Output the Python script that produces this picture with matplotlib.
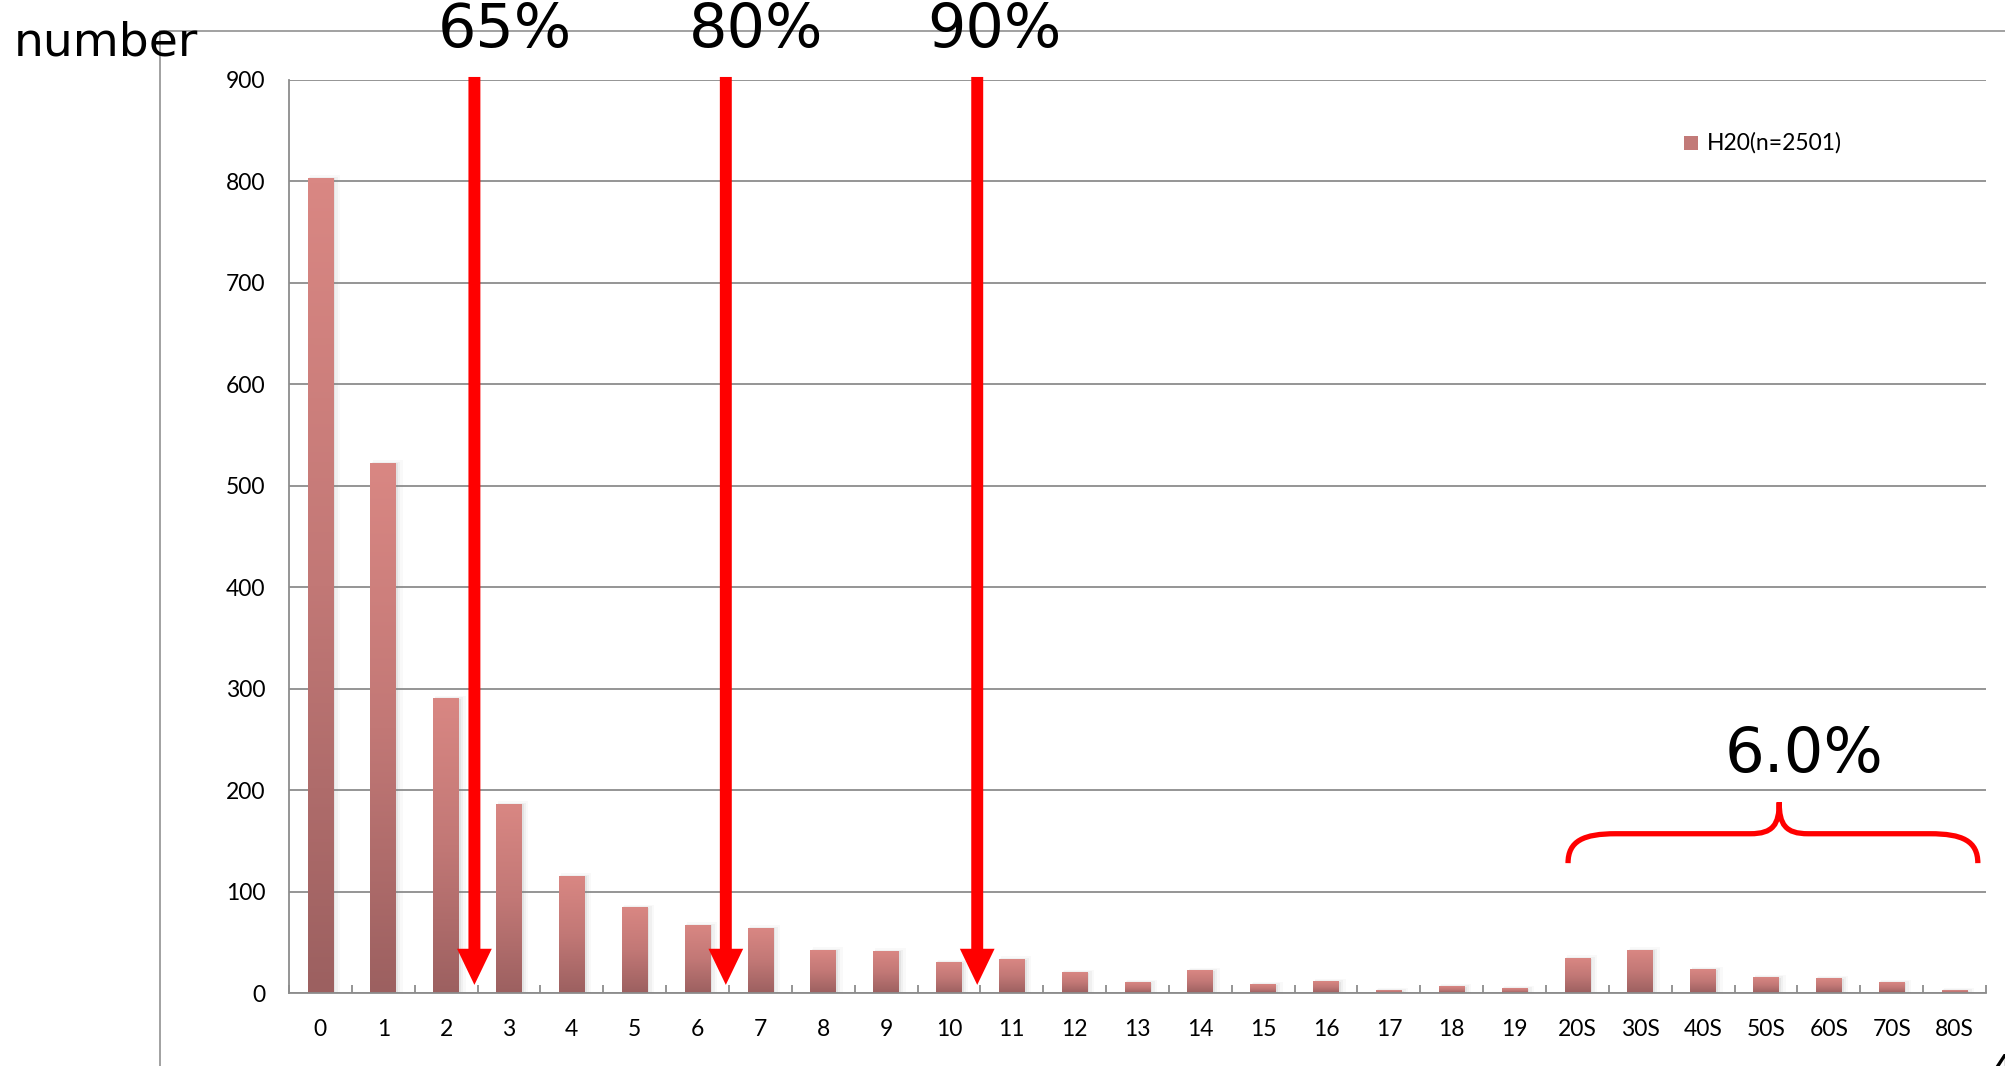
import numpy as np
import matplotlib
matplotlib.use("Agg")
import matplotlib.pyplot as plt
from matplotlib.path import Path
from matplotlib.patches import PathPatch, Rectangle
from matplotlib.lines import Line2D
from matplotlib.colors import LinearSegmentedColormap

# Number of cases per count bucket
categories = [str(i) for i in range(20)] + ["20S", "30S", "40S", "50S", "60S", "70S", "80S"]
counts = [803, 522, 290, 186, 115, 84, 67, 64, 42, 41, 30, 33, 20, 10, 22, 8, 11, 2, 6, 4,
          34, 42, 23, 15, 14, 10, 2]
series_label = "H20(n=2501)"

y_ticks = [0, 100, 200, 300, 400, 500, 600, 700, 800, 900]

# Cumulative-share markers (between buckets) and their labels
marker_pos = [2.45, 6.45, 10.45]
marker_labels = ["65%", "80%", "90%"]
marker_label_x = [2.94, 6.93, 10.72]
tail_label = "6.0%"

W, H = 2005, 1066
fig = plt.figure(figsize=(W / 100, H / 100), dpi=100)
fig.patch.set_facecolor("white")

def fx(px):
    return px / W

def fy(py):
    return 1 - py / H

ax = fig.add_axes([fx(289), fy(993), fx(1986) - fx(289), fy(80) - fy(993)])
ax.set_facecolor("white")

tick_font = "Lato"
grid_col = "#8c8c8c"

x = np.arange(len(categories))
bar_w = 0.41

# vertical gradient: light at the top, darker at the base
grad_cmap = LinearSegmentedColormap.from_list("bar", ["#9c6060", "#c27876", "#d98783"])
grad = np.linspace(0, 1, 256).reshape(-1, 1)

for xi, v in zip(x, counts):
    # soft shadow
    for k, a in enumerate([0.10, 0.07, 0.04]):
        off = 0.02 + 0.025 * k
        ax.add_patch(Rectangle((xi - bar_w / 2 + off * 0.5, 0), bar_w + off, v + 1.5 * k,
                               facecolor="#7f7f7f", edgecolor="none", alpha=a, zorder=1.5))
    ax.imshow(grad, extent=(xi - bar_w / 2, xi + bar_w / 2, 0, v), origin="lower",
              cmap=grad_cmap, aspect="auto", interpolation="bilinear", zorder=2)

ax.set_xlim(-0.5, len(categories) - 0.5)
ax.set_ylim(0, 900)

ax.set_yticks(y_ticks)
ax.set_yticklabels([str(t) for t in y_ticks], fontname=tick_font, fontsize=16.5)
ax.tick_params(axis="y", length=0, pad=17)
ax.grid(axis="y", color=grid_col, linewidth=1.3, zorder=1)
ax.set_axisbelow(True)

ax.set_xticks(x)
ax.set_xticklabels(categories, fontname=tick_font, fontsize=16.5)
ax.tick_params(axis="x", length=0, pad=19)
ax.set_xticks(np.arange(-0.5, len(categories)), minor=True)
ax.tick_params(axis="x", which="minor", direction="in", length=6, width=1.3, color=grid_col)

for side in ["top", "right"]:
    ax.spines[side].set_visible(False)
for side in ["left", "bottom"]:
    ax.spines[side].set_color(grid_col)
    ax.spines[side].set_linewidth(1.3)
    ax.spines[side].set_zorder(3)

# red arrows marking cumulative shares
cat_px = 1697 / len(categories)
for mx, lab, lx in zip(marker_pos, marker_labels, marker_label_x):
    ax.annotate("", xy=(mx, 8), xytext=(mx, 903), xycoords="data", textcoords="data",
                arrowprops=dict(arrowstyle="simple,head_length=26,head_width=25,tail_width=8.6",
                                mutation_scale=1, color="#ff0000", shrinkA=0, shrinkB=0,
                                linewidth=0),
                annotation_clip=False, zorder=5)
    fig.text(fx(289 + (lx + 0.5) * cat_px), fy(47), lab,
             ha="center", va="baseline", fontsize=43.5, family="DejaVu Sans", color="black")

# curly brace over the grouped buckets
L, R, M = 19.85, 26.37, 23.21
yb, yh, yt = 128, 157, 188
verts = [
    (L, yb), (L, 150), (L + 0.25, yh), (L + 0.76, yh),
    (M - 0.46, yh),
    (M - 0.1, yh), (M, 166), (M, yt),
    (M, 166), (M + 0.1, yh), (M + 0.46, yh),
    (R - 0.76, yh),
    (R - 0.25, yh), (R, 150), (R, yb),
]
codes = [Path.MOVETO, Path.CURVE4, Path.CURVE4, Path.CURVE4,
         Path.LINETO,
         Path.CURVE4, Path.CURVE4, Path.CURVE4,
         Path.CURVE4, Path.CURVE4, Path.CURVE4,
         Path.LINETO,
         Path.CURVE4, Path.CURVE4, Path.CURVE4]
ax.add_patch(PathPatch(Path(verts, codes), facecolor="none", edgecolor="#ff0000",
                       linewidth=3.8, capstyle="butt", zorder=5, clip_on=False))
ax.text(23.6, 218, tail_label, ha="center", va="baseline", fontsize=45,
        family="DejaVu Sans", color="black", zorder=6)

# legend entry
sq = Rectangle((fx(1684), fy(150)), fx(14), 14 / H, transform=fig.transFigure,
               facecolor="#c27a78", edgecolor="none")
fig.patches.append(sq)
fig.text(fx(1707), fy(143), series_label, ha="left", va="center",
         fontname=tick_font, fontsize=16.5, color="black")

# outer frame and axis caption
fig.add_artist(Line2D([fx(160), fx(160)], [fy(31), 0], transform=fig.transFigure,
                      color="#9a9a9a", linewidth=1.3))
fig.add_artist(Line2D([fx(160), 1], [fy(31), fy(31)], transform=fig.transFigure,
                      color="#9a9a9a", linewidth=1.3))
fig.text(fx(14), fy(55), "number", ha="left", va="baseline", fontsize=34,
         family="DejaVu Sans", color="black")
fig.text(fx(1987), fy(1053), "4", ha="left", va="top", fontsize=34,
         family="DejaVu Sans", color="black")

fig.savefig("out.png", dpi=100, facecolor="white")
